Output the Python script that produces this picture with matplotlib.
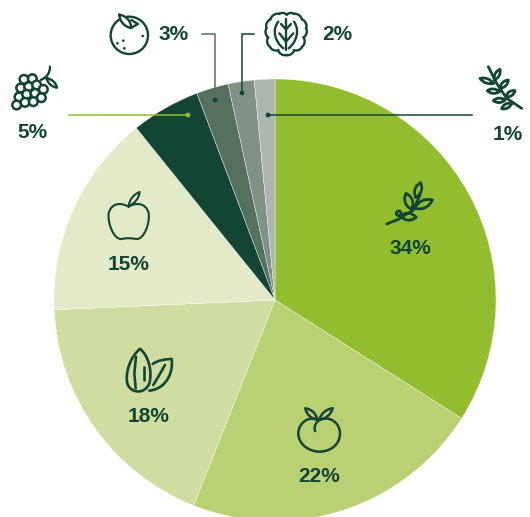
import matplotlib
matplotlib.use('Agg')
import matplotlib.pyplot as plt
from matplotlib.patches import Circle, PathPatch
from matplotlib.path import Path

W, H = 530, 517
DARK = '#124534'

# slice sizes, they don't quite follow the printed labels
shares = [34, 22, 18.3, 14.9, 5.05, 2.35, 1.9, 1.5]
colors = ['#92BD2E', '#B9D073', '#CFDDA0', '#E3EAC8', '#124534', '#567060', '#829186', '#ADB6AF']
labels = ['34%', '22%', '18%', '15%', '5%', '3%', '2%', '1%']
label_pos = [(410, 248), (319, 476), (149, 416), (129, 264), (32, 133), (174, 35), (337, 35), (508, 134)]

plt.rcParams['font.family'] = ['Liberation Sans', 'DejaVu Sans']
fig = plt.figure(figsize=(W / 100, H / 100), dpi=100)
ax = fig.add_axes([0, 0, 1, 1])


def py(y):
    return H - y


def curve(pts, ox=0, oy=0, s=1.0, fill='none', lw=1.7, color=DARK):
    # pts: start point then cubic triples, given in crop pixels
    xy = [(ox + x / s, py(oy + y / s)) for x, y in pts]
    codes = [Path.MOVETO] + [Path.CURVE4] * (len(xy) - 1)
    ax.add_patch(PathPatch(Path(xy, codes), fc=fill, ec=color, lw=lw, capstyle='round', joinstyle='round', zorder=4))


def line(pts, ox=0, oy=0, s=1.0, lw=1.7, color=DARK):
    ax.plot([ox + p[0] / s for p in pts], [py(oy + p[1] / s) for p in pts], color=color, lw=lw,
            solid_capstyle='round', solid_joinstyle='round', zorder=4)


def lens(a, b, w, ox=0, oy=0, s=1.0, lw=1.7, fill='none'):
    # leaf between two tips, w is the bulge either side
    dx, dy = b[0] - a[0], b[1] - a[1]
    n = (dx * dx + dy * dy) ** 0.5
    nx, ny = -dy / n * w, dx / n * w
    c1 = (a[0] + dx * .3 + nx, a[1] + dy * .3 + ny)
    c2 = (a[0] + dx * .7 + nx, a[1] + dy * .7 + ny)
    c3 = (a[0] + dx * .7 - nx, a[1] + dy * .7 - ny)
    c4 = (a[0] + dx * .3 - nx, a[1] + dy * .3 - ny)
    curve([a, c1, c2, b, c3, c4, a], ox, oy, s, lw=lw, fill=fill)


def scallops(pts, bulge, s=1.0, lw=1.7):
    # closed bumpy outline through pts, each step bulging to the outside
    path = [pts[0]]
    for a, b in zip(pts, pts[1:] + pts[:1]):
        dx, dy = b[0] - a[0], b[1] - a[1]
        nx, ny = dy * bulge, -dx * bulge
        path += [(a[0] + dx * .2 + nx, a[1] + dy * .2 + ny), (a[0] + dx * .8 + nx, a[1] + dy * .8 + ny), b]
    curve(path, s=s, lw=lw)


def ring(x, y, r, ox=0, oy=0, s=1.0, fill='none', lw=1.7):
    ax.add_patch(Circle((ox + x / s, py(oy + y / s)), r / s, fc=fill, ec=DARK, lw=lw, zorder=4))


def dot(x, y, r=2.4):
    ax.add_patch(Circle((x, py(y)), r, fc=DARK, ec='none', zorder=6))


# pie
ax.pie(shares, colors=colors, startangle=90, counterclock=False, center=(275, py(300)), radius=221,
       wedgeprops={'edgecolor': 'white', 'linewidth': 0.25}, frame=True)
ax.set_xlim(0, W)
ax.set_ylim(0, H)
ax.set_aspect('auto')
ax.axis('off')

# leader lines
ax.plot([69, 188], [py(115), py(115)], color='#92BD2E', lw=1.1, zorder=5)
ax.add_patch(Circle((188, py(115)), 2.4, fc='#92BD2E', ec='none', zorder=6))
ax.plot([268, 472], [py(115), py(115)], color=DARK, lw=1.1, zorder=5)
dot(268, 115)
ax.plot([202, 215, 215], [py(34), py(34), py(100)], color='#567060', lw=1.1, zorder=5)
dot(215, 100)
ax.plot([254, 242, 242], [py(34), py(34), py(93)], color=DARK, lw=1.1, zorder=5)
dot(242, 93)

for lab, (x, y) in zip(labels, label_pos):
    ax.text(x, py(y), lab, ha='center', va='center', color=DARK, fontsize=15, fontweight='bold', zorder=7)

# orange
ring(388, 106, 56, s=3)
lens((358, 44), (394, 84), 13, s=3, fill='white')
line([(394, 60), (414, 72), (392, 84)], s=3)
for x, y in [(352, 130), (370, 122), (373, 145), (428, 108)]:
    ring(x, y, 4, s=3, fill=DARK, lw=0)

# lettuce
scallops([(858, 165), (835, 150), (810, 140), (805, 112), (800, 85), (812, 58), (838, 42), (860, 45),
          (882, 42), (905, 58), (918, 85), (910, 112), (906, 140), (882, 150)], 0.28, s=3)
line([(858, 58), (858, 150)], s=3)
line([(843, 72), (858, 88), (873, 72)], s=3)
line([(838, 100), (858, 125), (880, 100)], s=3)
curve([(835, 65), (815, 90), (825, 125), (850, 145)], s=3)
curve([(882, 65), (900, 90), (890, 125), (866, 145)], s=3)

# grapes
for x, y in [(72, 238), (97, 236), (62, 264), (86, 260), (110, 255), (130, 268), (57, 291), (80, 283),
             (105, 280), (124, 293), (50, 315), (75, 307), (100, 305)]:
    ring(x, y, 13, s=3, fill='white', lw=1.8)
curve([(150, 200), (150, 218), (142, 232), (122, 240)], s=3)
lens((140, 235), (171, 263), 9, s=3)

# wheat
line([(1465, 200), (1490, 250), (1520, 295), (1565, 325)], s=3, lw=2)
for a, b in [((1483, 240), (1500, 208)), ((1500, 265), (1525, 240)), ((1518, 290), (1545, 272)),
             ((1535, 310), (1505, 326)), ((1515, 300), (1480, 302)), ((1498, 275), (1462, 272)),
             ((1480, 250), (1440, 235))]:
    lens(a, b, 9, s=3, lw=2)

# sprig
line([(50, 162), (85, 148), (130, 120), (150, 75)], ox=370, oy=170, s=3, lw=2)
lens((137, 82), (152, 38), 13, ox=370, oy=170, s=3, lw=2)
lens((125, 118), (108, 70), 15, ox=370, oy=170, s=3, lw=2)
lens((135, 115), (187, 90), 15, ox=370, oy=170, s=3, lw=2)
lens((138, 142), (92, 138), 14, ox=370, oy=170, s=3, lw=2)
ring(86, 130, 7, ox=370, oy=170, s=3, lw=2)

# apple
curve([(116, 80), (95, 68), (65, 66), (56, 100), (52, 130), (72, 180), (95, 177), (105, 174),
       (125, 174), (138, 177), (162, 180), (180, 130), (176, 100), (168, 66), (135, 68), (116, 80)],
      ox=90, oy=180, s=3, lw=1.5)
lens((116, 78), (149, 36), 10, ox=90, oy=180, s=3, lw=1.5)

# almonds
curve([(150, 507), (120, 530), (105, 580), (112, 610), (120, 640), (165, 645), (178, 610), (188, 575),
       (175, 525), (150, 507)], ox=90, oy=180, s=3, lw=1.9)
line([(138, 530), (133, 580), (137, 625)], ox=90, oy=180, s=3, lw=1.9)
line([(163, 560), (163, 600)], ox=90, oy=180, s=3, lw=1.9)
curve([(188, 552), (205, 540), (225, 538), (245, 537), (250, 570), (235, 625), (178, 632)],
      ox=90, oy=180, s=3, lw=1.9)
line([(190, 615), (205, 590), (225, 555)], ox=90, oy=180, s=3, lw=1.9)

# peach
curve([(118, 75), (85, 60), (55, 85), (55, 115), (55, 150), (90, 170), (118, 170), (150, 170), (180, 150),
       (180, 115), (180, 85), (150, 60), (118, 75)], ox=280, oy=395, s=3, lw=1.8)
curve([(118, 75), (105, 85), (102, 95), (105, 108)], ox=280, oy=395, s=3, lw=1.8)
lens((112, 74), (76, 40), 11, ox=280, oy=395, s=3, lw=1.8)
lens((118, 74), (158, 40), 11, ox=280, oy=395, s=3, lw=1.8)

fig.savefig('out.png', dpi=100)
